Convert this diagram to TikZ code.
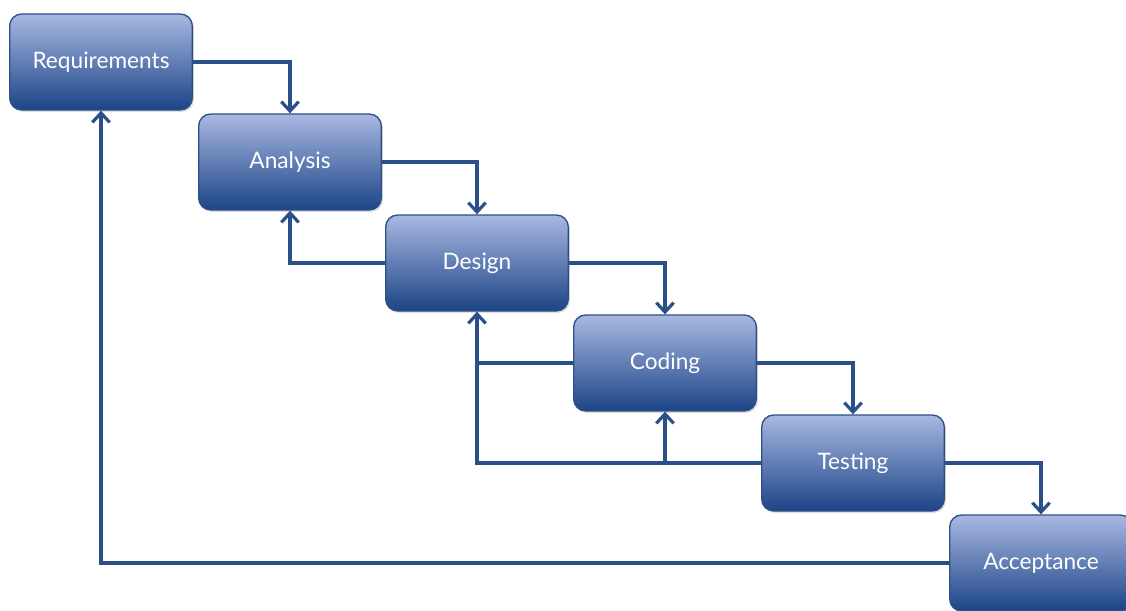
\documentclass[tikz,border=0pt]{standalone}
\usepackage{fontspec}
\setmainfont{Lato}
\usetikzlibrary{arrows.meta,shadows}
\definecolor{boxtop}{HTML}{A8B8E2}
\definecolor{boxmid}{HTML}{7F93C8}
\definecolor{boxbot}{HTML}{1C4486}
\definecolor{boxedge}{HTML}{2E4F88}
\definecolor{linec}{HTML}{2B5089}
\tikzset{
  phase/.style={draw=boxedge, line width=1pt, rounded corners=9pt,
    top color=boxtop, middle color=boxmid, bottom color=boxbot,
    minimum width=137pt, minimum height=72pt,
    text=white, font=\fontsize{17pt}{20pt}\selectfont,
    drop shadow={opacity=0.25, shadow xshift=1.2pt, shadow yshift=-1.5pt}},
  flow/.style={draw=linec, line width=2.6pt},
  arr/.style={flow, -{Straight Barb[length=7pt,width=13pt,line width=2.4pt]}}
}
\begin{document}
\begin{tikzpicture}[x=0.75pt,y=-0.75pt]
\useasboundingbox (0,0) rectangle (1126,610);
\fill[white] (0,0) rectangle (1126,610);
\node[phase] (req) at (101,62) {Requirements};
\node[phase] (ana) at (290,162) {Analysis};
\node[phase] (des) at (477,263) {Design};
\node[phase] (cod) at (665,363) {Coding};
\node[phase] (tes) at (853,463) {Testing};
\node[phase] (acc) at (1041,563) {Acceptance};
\coordinate (j1) at (cod.south |- tes.west);
\coordinate (j2) at (des.south |- tes.west);
\coordinate (j3) at (des.south |- cod.west);
% forward
\draw[arr] (req.east) -| (ana.north);
\draw[arr] (ana.east) -| (des.north);
\draw[arr] (des.east) -| (cod.north);
\draw[arr] (cod.east) -| (tes.north);
\draw[arr] (tes.east) -| (acc.north);
% feedback
\draw[arr] (des.west) -| (ana.south);
\draw[arr] (cod.west) -| (des.south);
\draw[arr] (tes.west) -| (cod.south);
\draw[flow] (j1) -- (j2) -- (j3);
\draw[arr] (acc.west) -| (req.south);
\end{tikzpicture}
\end{document}
